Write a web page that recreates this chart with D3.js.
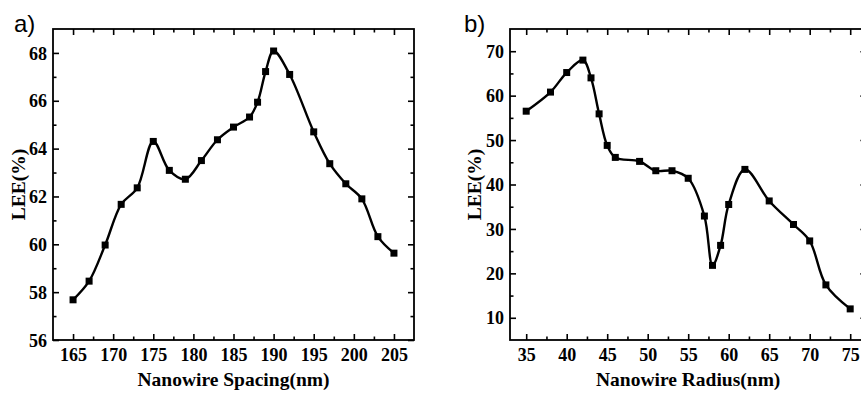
<!DOCTYPE html>
<html>
<head>
<meta charset="utf-8">
<script src="https://cdn.jsdelivr.net/npm/d3@7"></script>
<style>
  html, body { margin: 0; padding: 0; background: #fff; overflow: hidden; }
  svg { display: block; }
  .tick-label { font-family: "Liberation Serif", "Times New Roman", serif; font-weight: bold; font-size: 18px; fill: #000 !important; }
  .axis-title { font-family: "Liberation Serif", "Times New Roman", serif; font-weight: bold; font-size: 19.5px; fill: #000; }
  .panel-label { font-family: "Liberation Sans", Arial, sans-serif; font-size: 24px; fill: #000; }
</style>
</head>
<body>
<script>
// ---------- Data ----------
const spacingNm = [165, 167, 169, 171, 173, 175, 177, 179, 181, 183, 185, 187, 188, 189, 190, 192, 195, 197, 199, 201, 203, 205];
const spacingLEE = [57.68, 58.46, 59.97, 61.67, 62.36, 64.30, 63.09, 62.72, 63.50, 64.37, 64.90, 65.32, 65.94, 67.22, 68.08, 67.10, 64.70, 63.37, 62.53, 61.90, 60.32, 59.63];

const radiusNm = [35, 38, 40, 42, 43, 44, 45, 46, 49, 51, 53, 55, 57, 58, 59, 60, 62, 65, 68, 70, 72, 75];
const radiusLEE = [56.5, 60.8, 65.2, 68.0, 64.0, 55.9, 48.8, 46.1, 45.2, 43.1, 43.1, 41.4, 32.9, 21.8, 26.3, 35.5, 43.4, 36.3, 31.0, 27.3, 17.4, 12.0];

const spacingTicks = [165, 170, 175, 180, 185, 190, 195, 200, 205];
const spacingLEETicks = [56, 58, 60, 62, 64, 66, 68];
const radiusTicks = [35, 40, 45, 50, 55, 60, 65, 70, 75];
const radiusLEETicks = [10, 20, 30, 40, 50, 60, 70];

// ---------- Setup ----------
const W = 861, H = 393;
const svg = d3.select("body").append("svg").attr("width", W).attr("height", H);

function panel(cfg) {
  const { left, right, top, bottom, xDomain, yDomain, xs, ys, xTicks, yTicks, xMinorStep, yMinorStep, xTitle, yTitle, label, labelX, yTitleX } = cfg;
  const x = d3.scaleLinear().domain(xDomain).range([left, right]);
  const y = d3.scaleLinear().domain(yDomain).range([bottom, top]);
  const g = svg.append("g");

  const xMinor = d3.range(xTicks[0] - xMinorStep, xDomain[1] + 1e-9, xMinorStep * 2)
    .filter(v => v > xDomain[0] + 1e-9 && v < xDomain[1] - 1e-9);
  const yMinor = d3.range(yTicks[0] - yMinorStep, yDomain[1] + 1e-9, yMinorStep * 2)
    .filter(v => v > yDomain[0] + 1e-9 && v < yDomain[1] - 1e-9);

  const majorLen = 6, minorLen = 3.5;

  const axB = d3.axisBottom(x).tickValues(xTicks).tickSizeInner(-majorLen).tickSizeOuter(0).tickFormat(d3.format("d")).tickPadding(8);
  const axT = d3.axisTop(x).tickValues(xTicks).tickSizeInner(-majorLen).tickSizeOuter(0).tickFormat("");
  const axL = d3.axisLeft(y).tickValues(yTicks).tickSizeInner(-majorLen).tickSizeOuter(0).tickFormat(d3.format("d")).tickPadding(6);
  const axR = d3.axisRight(y).tickValues(yTicks).tickSizeInner(-majorLen).tickSizeOuter(0).tickFormat("");

  const axBm = d3.axisBottom(x).tickValues(xMinor).tickSizeInner(-minorLen).tickSizeOuter(0).tickFormat("");
  const axTm = d3.axisTop(x).tickValues(xMinor).tickSizeInner(-minorLen).tickSizeOuter(0).tickFormat("");
  const axLm = d3.axisLeft(y).tickValues(yMinor).tickSizeInner(-minorLen).tickSizeOuter(0).tickFormat("");
  const axRm = d3.axisRight(y).tickValues(yMinor).tickSizeInner(-minorLen).tickSizeOuter(0).tickFormat("");

  const style = (sel, isBottom) => {
    sel.selectAll(".domain").remove();
    sel.selectAll(".tick line").attr("stroke", "#000").attr("stroke-width", 1.6);
    sel.selectAll(".tick text").attr("class", "tick-label").attr("fill", "#000")
      .attr("dy", isBottom ? "0.71em" : "0.34em");
  };
  g.append("g").attr("transform", `translate(0,${bottom})`).call(axB).call(s => style(s, true));
  g.append("g").attr("transform", `translate(0,${top})`).call(axT).call(s => style(s, false));
  g.append("g").attr("transform", `translate(${left},0)`).call(axL).call(s => style(s, false));
  g.append("g").attr("transform", `translate(${right},0)`).call(axR).call(s => style(s, false));
  g.append("g").attr("transform", `translate(0,${bottom})`).call(axBm).call(s => style(s, true));
  g.append("g").attr("transform", `translate(0,${top})`).call(axTm).call(s => style(s, false));
  g.append("g").attr("transform", `translate(${left},0)`).call(axLm).call(s => style(s, false));
  g.append("g").attr("transform", `translate(${right},0)`).call(axRm).call(s => style(s, false));

  g.append("rect").attr("x", left).attr("y", top).attr("width", right - left).attr("height", bottom - top)
    .attr("fill", "none").attr("stroke", "#000").attr("stroke-width", 1.8);

  const pts = xs.map((v, i) => [v, ys[i]]);
  const line = d3.line().x(d => x(d[0])).y(d => y(d[1])).curve(d3.curveCatmullRom.alpha(0.5));
  g.append("path").datum(pts).attr("d", line).attr("fill", "none").attr("stroke", "#000").attr("stroke-width", 2.4);
  const ms = 7;
  g.selectAll("rect.m").data(pts).enter().append("rect").attr("class", "m")
    .attr("x", d => x(d[0]) - ms / 2).attr("y", d => y(d[1]) - ms / 2)
    .attr("width", ms).attr("height", ms).attr("fill", "#000");

  g.append("text").attr("class", "axis-title").attr("x", (left + right) / 2).attr("y", 386)
    .attr("text-anchor", "middle").text(xTitle);
  g.append("text").attr("class", "axis-title")
    .attr("transform", `translate(${yTitleX},${(top + bottom) / 2}) rotate(-90)`)
    .attr("text-anchor", "middle").text(yTitle);
  g.append("text").attr("class", "panel-label").attr("x", labelX).attr("y", 32).text(label);
}

panel({
  left: 53, right: 414, top: 29, bottom: 340,
  xDomain: [162.5, 207.5], yDomain: [56, 69],
  xs: spacingNm, ys: spacingLEE,
  xTicks: spacingTicks, yTicks: spacingLEETicks,
  xMinorStep: 2.5, yMinorStep: 1,
  xTitle: "Nanowire Spacing(nm)", yTitle: "LEE(%)",
  label: "a)", labelX: 14, yTitleX: 25
});
panel({
  left: 510, right: 866.4, top: 29, bottom: 340,
  xDomain: [33, 77], yDomain: [5, 75],
  xs: radiusNm, ys: radiusLEE,
  xTicks: radiusTicks, yTicks: radiusLEETicks,
  xMinorStep: 2.5, yMinorStep: 5,
  xTitle: "Nanowire Radius(nm)", yTitle: "LEE(%)",
  label: "b)", labelX: 464, yTitleX: 481
});
</script>
</body>
</html>
